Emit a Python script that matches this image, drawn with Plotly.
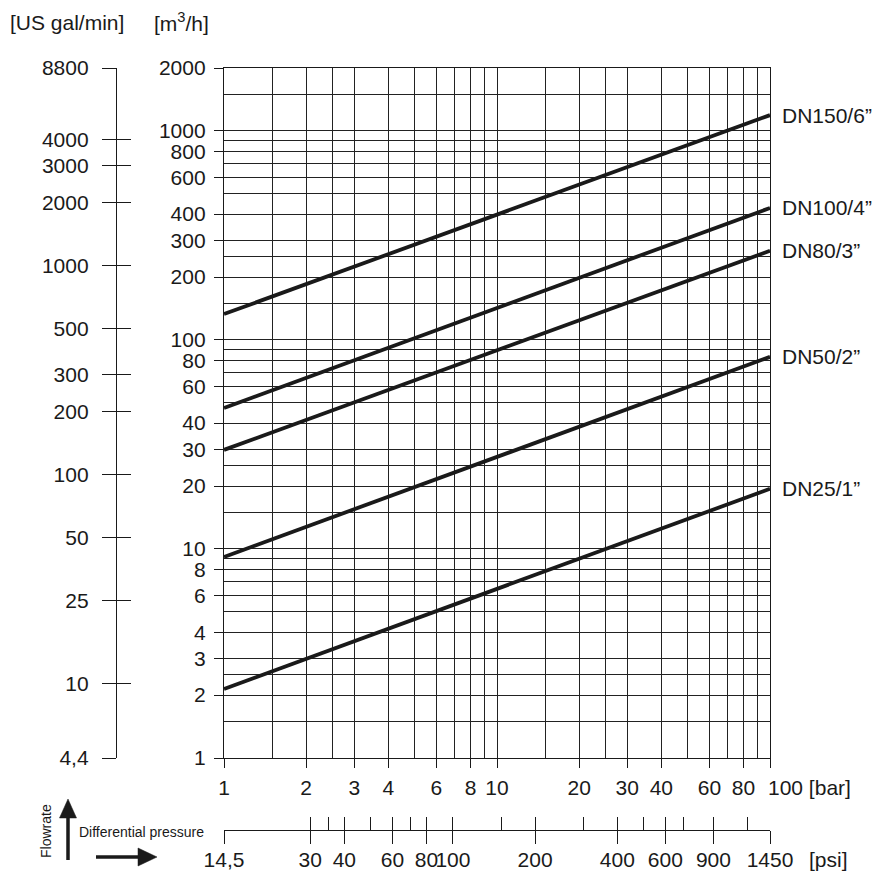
import numpy as np
import plotly.graph_objects as go

# ---------------- data ----------------
dn_labels = ["DN150/6\u201d", "DN100/4\u201d", "DN80/3\u201d", "DN50/2\u201d", "DN25/1\u201d"]
dp_bar = [1, 100]                       # differential pressure [bar]
q_at_1bar = [133, 47.3, 29.8, 9.16, 2.14]     # flow [m3/h] at 1 bar
q_at_100bar = [1190, 428, 267, 83, 19.4]      # flow [m3/h] at 100 bar

x_ticks = [1, 2, 3, 4, 6, 8, 10, 20, 30, 40, 60, 80, 100]
x_minor = [1.5, 2.5, 5, 7, 9, 15, 25, 50, 70, 90]
y_ticks = [1, 2, 3, 4, 6, 8, 10, 20, 30, 40, 60, 80, 100, 200, 300, 400, 600, 800, 1000, 2000]
y_minor = [1.5, 2.5, 5, 7, 9, 15, 25, 50, 70, 90, 150, 250, 500, 700, 900, 1500]

psi_ticks = [14.5, 30, 40, 60, 80, 100, 200, 400, 600, 900, 1450]
psi_labels = ["14,5", "30", "40", "60", "80", "100", "200", "400", "600", "900", "1450"]
psi_minor = [35, 50, 70, 150, 300, 500, 700, 1200]

gpm_ticks = [4.4, 10, 25, 50, 100, 200, 300, 500, 1000, 2000, 3000, 4000, 8800]
gpm_labels = ["4,4", "10", "25", "50", "100", "200", "300", "500", "1000", "2000", "3000", "4000", "8800"]

# ---------------- layout geometry ----------------
OFF = 8                      # page body margin
W, H = 885, 871
L, R, T, B = 82, 123, 60, 28
pw, ph = W - L - R, H - T - B


def pxx(x):
    """page pixel x -> paper fraction"""
    return (x - OFF - L) / pw


def pxy(y):
    """page pixel y -> paper fraction"""
    return (H - B - (y - OFF)) / ph


FONT = "Liberation Sans, Arial, sans-serif"
FS = 21
INK = "#1a1a1a"
GRID = "#222222"

xdom = [pxx(224), 1]
ydom = [pxy(758), 1]

fig = go.Figure()
for name, q1, q100 in zip(dn_labels, q_at_1bar, q_at_100bar):
    fig.add_trace(go.Scatter(x=dp_bar, y=[q1, q100], mode="lines", name=name,
                             line=dict(color=INK, width=3.8), showlegend=False,
                             hoverinfo="skip"))
    fig.add_annotation(x=np.log10(dp_bar[-1]), y=np.log10(q100), xref="x", yref="y",
                       text=name, showarrow=False, xanchor="left", yanchor="middle", xshift=10,
                       font=dict(family=FONT, size=FS, color=INK))

# empty carrier traces so the secondary scales are drawn
for xa, ya in [("x", "y2"), ("x", "y3"), ("x2", "y"), ("x3", "y"), ("x4", "y")]:
    fig.add_trace(go.Scatter(x=[None], y=[None], xaxis=xa, yaxis=ya, mode="lines",
                             showlegend=False, hoverinfo="skip"))

common = dict(automargin=False, tickcolor=INK, tickwidth=1.3, linecolor=INK, linewidth=1.3,
              tickangle=0, tickfont=dict(family=FONT, size=FS, color=INK))
xlog = dict(type="log", range=[np.log10(x_ticks[0]), np.log10(x_ticks[-1])], domain=xdom)
psilog = dict(type="log", range=[np.log10(psi_ticks[0]), np.log10(psi_ticks[-1])], domain=xdom,
              anchor="free", position=pxy(830), overlaying="x", side="bottom",
              showgrid=False, zeroline=False)
gpmlog = dict(type="log", range=[np.log10(gpm_ticks[0]), np.log10(gpm_ticks[-1])], domain=ydom,
              anchor="free", position=pxx(116), overlaying="y", side="left",
              showgrid=False, zeroline=False)

fig.update_layout(
    width=W, height=H, margin=dict(l=L, r=R, t=T, b=B, autoexpand=False),
    paper_bgcolor="white", plot_bgcolor="white",
    font=dict(family=FONT, size=FS, color=INK),
    xaxis=dict(**xlog, tickmode="array", tickvals=x_ticks[:-1],
               ticktext=[str(v) for v in x_ticks[:-1]],
               ticks="outside", ticklen=9,
               showgrid=True, gridcolor=GRID, gridwidth=1.3,
               minor=dict(tickmode="array", tickvals=x_minor, showgrid=True,
                          gridcolor=GRID, gridwidth=1.3, ticks=""),
               showline=True, mirror=True, ticklabelstandoff=2, **common),
    # tick mark at the last bar value (its label is written together with the unit)
    xaxis4=dict(**xlog, overlaying="x", anchor="y", side="bottom", tickmode="array",
                tickvals=x_ticks[-1:], showticklabels=False, ticks="outside", ticklen=9,
                showgrid=False, showline=False, **common),
    yaxis=dict(type="log", range=[np.log10(y_ticks[0]), np.log10(y_ticks[-1])], domain=ydom,
               tickmode="array", tickvals=y_ticks, ticktext=[str(v) for v in y_ticks],
               ticks="outside", ticklen=9,
               showgrid=True, gridcolor=GRID, gridwidth=1.3,
               minor=dict(tickmode="array", tickvals=y_minor, showgrid=True,
                          gridcolor=GRID, gridwidth=1.3, ticks=""),
               showline=True, mirror=True, ticklabelstandoff=4, **common),
    # US gal/min axis (labels + outside half of crossing ticks)
    yaxis2=dict(**gpmlog, tickmode="array", tickvals=gpm_ticks, ticktext=gpm_labels,
                ticks="outside", ticklen=14, showline=True, ticklabelstandoff=9, **common),
    # inside half of crossing ticks
    yaxis3=dict(**gpmlog, tickmode="array", tickvals=gpm_ticks, showticklabels=False,
                ticks="inside", ticklen=14, showline=False, **common),
    # psi axis
    xaxis2=dict(**psilog, tickmode="array", tickvals=psi_ticks, ticktext=psi_labels,
                ticks="outside", ticklen=13,
                minor=dict(tickmode="array", tickvals=psi_minor, ticks="inside",
                           ticklen=13, tickwidth=1.3, tickcolor=INK, showgrid=False),
                showline=True, ticklabelstandoff=-2, **common),
    xaxis3=dict(**psilog, tickmode="array", tickvals=psi_ticks, showticklabels=False,
                ticks="inside", ticklen=13, showline=False, **common),
)

# axis-end labels
fig.add_annotation(xref="x", yref="paper", x=np.log10(x_ticks[-1]), y=pxy(787),
                   text=f"{x_ticks[-1]} [bar]", showarrow=False, xanchor="left", yanchor="middle",
                   xshift=-4, font=dict(family=FONT, size=FS, color=INK))
fig.add_annotation(xref="x2", yref="paper", x=np.log10(psi_ticks[-1]), y=pxy(859),
                   text="[psi]", showarrow=False, xanchor="left", yanchor="middle",
                   xshift=37, font=dict(family=FONT, size=FS, color=INK))

# unit titles
fig.add_annotation(xref="paper", yref="paper", x=pxx(8), y=pxy(22), text="[US gal/min]",
                   showarrow=False, xanchor="left", yanchor="middle",
                   font=dict(family=FONT, size=FS, color=INK))
fig.add_annotation(xref="paper", yref="paper", x=pxx(152), y=pxy(22), text="[m<sup>3</sup>/h]",
                   showarrow=False, xanchor="left", yanchor="middle",
                   font=dict(family=FONT, size=FS, color=INK))

# labels at bottom left
fig.add_annotation(xref="paper", yref="paper", x=pxx(46), y=pxy(831), text="Flowrate",
                   textangle=-90, showarrow=False, xanchor="center", yanchor="middle",
                   font=dict(family=FONT, size=14, color=INK))
fig.add_annotation(xref="paper", yref="paper", x=pxx(77), y=pxy(832), text="Differential pressure",
                   showarrow=False, xanchor="left", yanchor="middle",
                   font=dict(family=FONT, size=14, color=INK))

# arrows drawn as shapes (shaft + filled head)
fig.add_shape(type="line", xref="paper", yref="paper",
              x0=pxx(68), y0=pxy(860), x1=pxx(68), y1=pxy(814),
              line=dict(color=INK, width=3.5))
fig.add_shape(type="path", xref="paper", yref="paper",
              path=f"M {pxx(59.5)} {pxy(818)} L {pxx(76.5)} {pxy(818)} L {pxx(68)} {pxy(799)} Z",
              fillcolor=INK, line=dict(color=INK, width=0.5))
fig.add_shape(type="line", xref="paper", yref="paper",
              x0=pxx(96), y0=pxy(857), x1=pxx(142), y1=pxy(857),
              line=dict(color=INK, width=3.5))
fig.add_shape(type="path", xref="paper", yref="paper",
              path=f"M {pxx(138)} {pxy(848)} L {pxx(138)} {pxy(866)} L {pxx(157)} {pxy(857)} Z",
              fillcolor=INK, line=dict(color=INK, width=0.5))

fig.write_html("out.html")
